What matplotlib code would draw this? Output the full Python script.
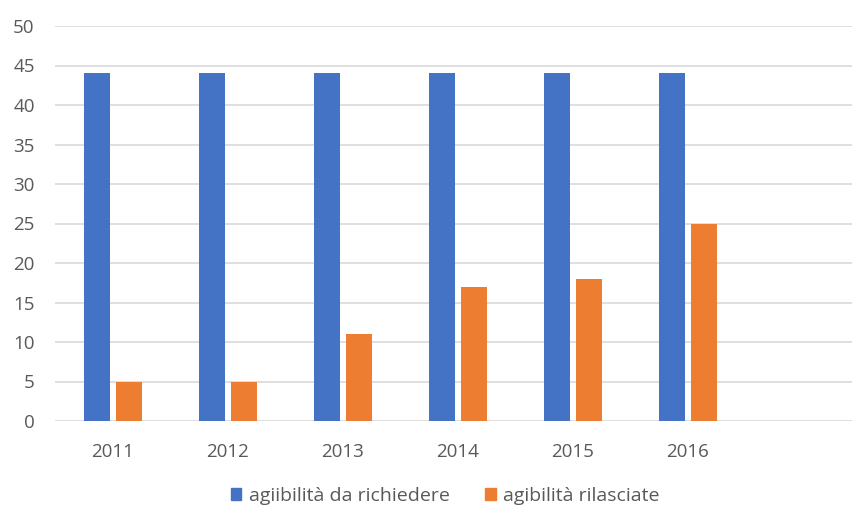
import numpy as np
from matplotlib import pyplot as plt
from matplotlib.patches import Patch

plt.rcParams['font.family'] = ['Open Sans', 'DejaVu Sans']

years = ["2011", "2012", "2013", "2014", "2015", "2016"]
da_richiedere = [44, 44, 44, 44, 44, 44]
rilasciate = [5, 5, 11, 17, 18, 25]
labels = ["agiibilità da richiedere", "agibilità rilasciate"]

BLUE = "#4472c4"
ORANGE = "#ed7d31"
GRID = "#d9d9d9"
TEXT = "#595959"

fig = plt.figure(figsize=(8.53, 5.09), dpi=100)
ax = fig.add_axes([55.5 / 853, 1 - 421 / 509, 1 - 55.5 / 853, (421 - 26) / 509])

x = np.arange(len(years))
w = 0.226
off = 0.139
ax.bar(x - off, da_richiedere, width=w, color=BLUE, zorder=3)
ax.bar(x + off, rilasciate, width=w, color=ORANGE, zorder=3)

ax.set_xlim(-0.5, -0.5 + (853 - 55.5) / 115)
ax.set_ylim(0, 50)
ax.set_yticks(range(0, 51, 5))
ax.set_xticks(x)
ax.set_xticklabels(years)
ax.grid(axis="y", color=GRID, linewidth=1.2, zorder=0)
for s in ax.spines.values():
    s.set_visible(False)
ax.tick_params(length=0, colors=TEXT, labelsize=13.5)
ax.tick_params(axis="y", pad=15)
ax.tick_params(axis="x", pad=15.5)

handles = [Patch(color=BLUE), Patch(color=ORANGE)]
fig.legend(handles, labels, loc="center", bbox_to_anchor=(0.522, 1 - 496 / 509),
           ncol=2, frameon=False, fontsize=14, labelcolor=TEXT,
           handlelength=0.53, handleheight=0.53, handletextpad=0.37, columnspacing=1.85)

fig.savefig("out.png", dpi=100)
